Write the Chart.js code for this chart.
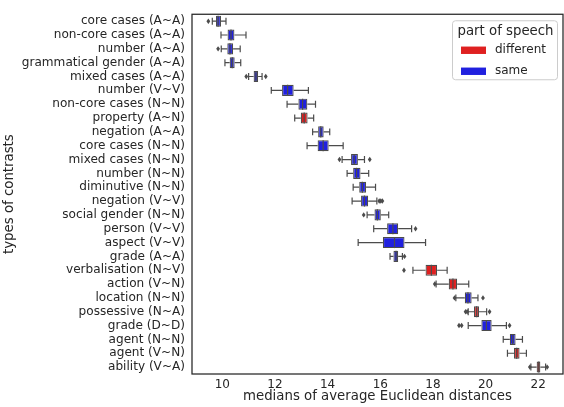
<!DOCTYPE html>
<html>
<head>
<meta charset="utf-8">
<script src="https://cdn.jsdelivr.net/npm/chart.js@4/dist/chart.umd.min.js"></script>
<style>
  body { margin: 0; background: #fff; }
  #wrap { width: 564px; height: 407px; }
</style>
</head>
<body>
<div id="wrap"><canvas id="box" width="564" height="407"></canvas></div>
<script>
// Contrast types, top to bottom
const categories = [
    'core cases (A~A)', 'non-core cases (A~A)', 'number (A~A)', 'grammatical gender (A~A)',
    'mixed cases (A~A)', 'number (V~V)', 'non-core cases (N~N)', 'property (A~N)',
    'negation (A~A)', 'core cases (N~N)', 'mixed cases (N~N)', 'number (N~N)',
    'diminutive (N~N)', 'negation (V~V)', 'social gender (N~N)', 'person (V~V)',
    'aspect (V~V)', 'grade (A~A)', 'verbalisation (N~V)', 'action (V~N)',
    'location (N~N)', 'possessive (N~A)', 'grade (D~D)', 'agent (N~N)',
    'agent (V~N)', 'ability (V~A)'
];
const partOfSpeech = [
    'same', 'same', 'same', 'same', 'same', 'same', 'same', 'different',
    'same', 'same', 'same', 'same', 'same', 'same', 'same', 'same',
    'same', 'same', 'different', 'different', 'same', 'different', 'same', 'same',
    'different', 'different'
];
const whiskerLow = [9.62, 9.95, 9.96, 10.1, 11.0, 11.86, 12.46, 12.75, 13.43, 13.22, 14.55, 14.74, 14.97,
    14.93, 15.5, 15.75, 15.16, 16.37, 17.24, 18.12, 18.87, 19.34, 19.34, 20.67, 20.83, 21.72];
const q1 = [9.76, 10.2, 10.19, 10.28, 11.19, 12.27, 12.89, 12.98, 13.64, 13.62, 14.89, 14.97, 15.2,
    15.27, 15.78, 16.26, 16.1, 16.5, 17.72, 18.6, 19.21, 19.56, 19.84, 20.92, 21.08, 21.94];
const medians = [9.84, 10.33, 10.29, 10.38, 11.28, 12.48, 13.05, 13.11, 13.74, 13.83, 15.01, 15.1, 15.32,
    15.4, 15.89, 16.48, 16.54, 16.6, 17.94, 18.76, 19.33, 19.66, 20.03, 21.03, 21.18, 22.02];
const q3 = [9.95, 10.46, 10.41, 10.47, 11.36, 12.71, 13.23, 13.24, 13.85, 14.04, 15.15, 15.25, 15.46,
    15.54, 16.02, 16.68, 16.92, 16.68, 18.16, 18.92, 19.47, 19.75, 20.23, 21.14, 21.29, 22.08];
const whiskerHigh = [10.14, 10.9, 10.68, 10.7, 11.51, 13.27, 13.54, 13.47, 14.08, 14.59, 15.4, 15.56, 15.82,
    15.87, 16.32, 17.19, 17.72, 16.84, 18.54, 19.36, 19.71, 20.04, 20.79, 21.4, 21.55, 22.28];
const outliers = [
    [9.47], [], [9.84], [], [10.91, 11.65], [], [], [],
    [], [], [14.45, 15.6], [], [], [15.96, 16.02, 16.08], [15.37], [17.34],
    [], [16.92], [16.9], [18.07], [18.82, 19.9], [19.24, 19.3, 20.15], [18.99, 19.09, 20.91], [],
    [], [21.68, 22.34]
];
const groups = ['different', 'same'];
const groupColors = { different: '#df2020', same: '#2020df' };
const xTicks = [10, 12, 14, 16, 18, 20, 22];

const lineGray = '#4c4c4c';
const textColor = '#262626';
const FONT = 'DejaVu Sans';

// whiskers, caps, medians and fliers
const boxExtras = {
    id: 'boxExtras',
    beforeDatasetsDraw(chart) {
        const { ctx, scales: { x, y } } = chart;
        const rowH = y.getPixelForValue(1) - y.getPixelForValue(0);
        const cap = rowH * 0.25;
        ctx.save();
        ctx.strokeStyle = lineGray;
        ctx.lineWidth = 1.2;
        categories.forEach((c, i) => {
            const py = y.getPixelForValue(i);
            const xl = x.getPixelForValue(whiskerLow[i]);
            const xh = x.getPixelForValue(whiskerHigh[i]);
            ctx.beginPath();
            ctx.moveTo(xl, py); ctx.lineTo(x.getPixelForValue(q1[i]), py);
            ctx.moveTo(x.getPixelForValue(q3[i]), py); ctx.lineTo(xh, py);
            ctx.moveTo(xl, py - cap); ctx.lineTo(xl, py + cap);
            ctx.moveTo(xh, py - cap); ctx.lineTo(xh, py + cap);
            ctx.stroke();
        });
        ctx.restore();
    },
    afterDatasetsDraw(chart) {
        const { ctx, scales: { x, y } } = chart;
        const rowH = y.getPixelForValue(1) - y.getPixelForValue(0);
        const half = rowH * 0.4;
        ctx.save();
        ctx.strokeStyle = lineGray;
        ctx.fillStyle = lineGray;
        ctx.lineWidth = 1.2;
        categories.forEach((c, i) => {
            const py = y.getPixelForValue(i);
            const pm = x.getPixelForValue(medians[i]);
            ctx.beginPath();
            ctx.moveTo(pm, py - half); ctx.lineTo(pm, py + half);
            ctx.stroke();
            outliers[i].forEach(v => {
                const px = x.getPixelForValue(v);
                ctx.beginPath();
                ctx.moveTo(px, py - 2.7);
                ctx.lineTo(px + 1.9, py);
                ctx.lineTo(px, py + 2.7);
                ctx.lineTo(px - 1.9, py);
                ctx.closePath();
                ctx.fill();
            });
        });
        ctx.restore();
    },
    afterDraw(chart) {
        const { ctx, chartArea: a } = chart;
        ctx.save();
        // axes frame
        ctx.strokeStyle = textColor;
        ctx.lineWidth = 1.25;
        ctx.strokeRect(a.left, a.top, a.right - a.left, a.bottom - a.top);

        // legend, top right inside the plot
        const lx = a.right - 111, ly = a.top + 6, lw = 105, lh = 59;
        ctx.fillStyle = 'rgba(255,255,255,0.8)';
        ctx.strokeStyle = '#cccccc';
        ctx.lineWidth = 1;
        ctx.beginPath();
        ctx.roundRect(lx + 0.5, ly + 0.5, lw, lh, 3);
        ctx.fill();
        ctx.stroke();
        ctx.fillStyle = textColor;
        ctx.textBaseline = 'middle';
        ctx.textAlign = 'center';
        ctx.font = '13.3px "' + FONT + '"';
        ctx.fillText('part of speech', lx + lw / 2 + 1, ly + 11);
        ctx.textAlign = 'left';
        ctx.font = '12px "' + FONT + '"';
        groups.forEach((g, k) => {
            const ry = ly + 30 + k * 21;
            ctx.fillStyle = groupColors[g];
            ctx.fillRect(lx + 9, ry - 3.7, 25, 7.4);
            ctx.fillStyle = textColor;
            ctx.fillText(g, lx + 43, ry);
        });
        ctx.restore();
    }
};

const datasets = groups.map(g => ({
    label: g,
    data: categories.map((c, i) => partOfSpeech[i] === g ? [q1[i], q3[i]] : null),
    backgroundColor: groupColors[g],
    borderColor: lineGray,
    borderWidth: 1.2,
    borderSkipped: false,
    barPercentage: 0.8,
    categoryPercentage: 1,
    grouped: false
}));

new Chart(document.getElementById('box'), {
    type: 'bar',
    data: { labels: categories, datasets: datasets },
    options: {
        indexAxis: 'y',
        responsive: false,
        animation: false,
        layout: { padding: { top: 4, right: 1, left: 0, bottom: 0 } },
        plugins: {
            legend: { display: false },
            tooltip: { enabled: false }
        },
        scales: {
            x: {
                min: 8.849,
                max: 22.94,
                afterBuildTicks: scale => { scale.ticks = xTicks.map(v => ({ value: v })); },
                afterFit: scale => { scale.height = 33; },
                grid: { display: false, drawTicks: false },
                border: { display: false },
                ticks: {
                    padding: 4,
                    color: textColor,
                    font: { family: FONT, size: 12 }
                },
                title: {
                    display: true,
                    text: 'medians of average Euclidean distances',
                    color: textColor,
                    font: { family: FONT, size: 13.3 },
                    padding: { top: 0, bottom: 2 }
                }
            },
            y: {
                afterFit: scale => { scale.width = 192; },
                grid: { display: false, drawTicks: false },
                border: { display: false },
                ticks: {
                    padding: 7,
                    autoSkip: false,
                    color: textColor,
                    font: { family: FONT, size: 12.1 }
                },
                title: {
                    display: true,
                    text: 'types of contrasts',
                    color: textColor,
                    font: { family: FONT, size: 13.3 },
                    padding: { top: 2, bottom: 0 }
                }
            }
        }
    },
    plugins: [boxExtras]
});
</script>
</body>
</html>
